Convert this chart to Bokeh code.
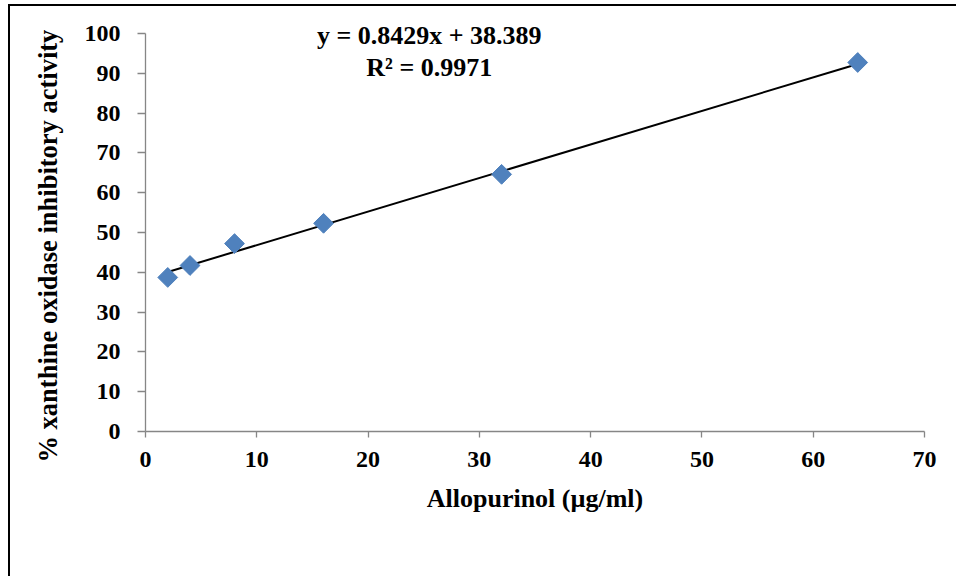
import numpy as np
from bokeh.plotting import figure
from bokeh.models import Label, Range1d, FixedTicker, Title
from bokeh.embed import file_html
from bokeh.resources import INLINE

# Data
concentration = [2, 4, 8, 16, 32, 64]
inhibition = [38.7, 41.7, 47.2, 52.3, 64.6, 92.7]
slope = 0.8429
intercept = 38.389
r_squared = 0.9971
x_ticks = [0, 10, 20, 30, 40, 50, 60, 70]
y_ticks = [0, 10, 20, 30, 40, 50, 60, 70, 80, 90, 100]

FONT = "Liberation Serif"

p = figure(width=948, height=572, output_backend="svg", toolbar_location=None,
           x_range=Range1d(0, 70), y_range=Range1d(0, 104),
           min_border_left=135, min_border_right=34, min_border_top=11, min_border_bottom=147)
p.styles = {"border-left": "2px solid black", "border-top": "2px solid black",
            "margin-left": "8px", "margin-top": "4px"}
p.outline_line_color = None
p.grid.visible = False
p.background_fill_color = "white"
p.border_fill_color = "white"

for ax in (p.xaxis[0], p.yaxis[0]):
    ax.axis_line_color = "#868686"
    ax.axis_line_width = 1.3
    ax.major_tick_line_color = "#868686"
    ax.major_tick_line_width = 1.3
    ax.minor_tick_line_color = None
    ax.major_tick_in = 0
    ax.major_label_text_font = FONT
    ax.major_label_text_font_style = "bold"
    ax.major_label_text_font_size = "24px"
    ax.major_label_text_color = "black"
    ax.axis_label_text_font = FONT
    ax.axis_label_text_font_style = "bold"
    ax.axis_label_text_color = "black"

p.xaxis.ticker = FixedTicker(ticks=x_ticks)
p.yaxis.ticker = FixedTicker(ticks=y_ticks)
p.yaxis.bounds = (0, 100)
p.xaxis.major_tick_out = 6
p.yaxis.major_tick_out = 8
p.xaxis.major_label_standoff = 14
p.yaxis.major_label_standoff = 17
p.xaxis.axis_label = "Allopurinol (µg/ml)"
p.xaxis.axis_label_standoff = 14
p.xaxis.axis_label_text_font_size = "26px"

ylab = Title(text="% xanthine oxidase inhibitory activity", align="left", offset=-31,
             text_font=FONT, text_font_style="bold", text_font_size="26.5px",
             text_color="black", standoff=38)
p.add_layout(ylab, "left")

# Trend line
xs = np.array([min(concentration), max(concentration)], dtype=float)
p.line(xs, slope * xs + intercept, line_color="black", line_width=2)

# Points
p.scatter(concentration, inhibition, marker="square", angle=np.pi / 4, size=14,
          fill_color="#4F81BD", line_color="#4F81BD")

p.add_layout(Label(x=25.5, y=99.4, text=f"y = {slope}x + {intercept}", text_align="center",
                   text_baseline="middle", text_font=FONT, text_font_style="bold",
                   text_font_size="26px", text_color="black"))
p.add_layout(Label(x=25.5, y=91.4, text=f"R² = {r_squared}", text_align="center",
                   text_baseline="middle", text_font=FONT, text_font_style="bold",
                   text_font_size="26px", text_color="black"))

open("out.html", "w").write(file_html(p, INLINE))
